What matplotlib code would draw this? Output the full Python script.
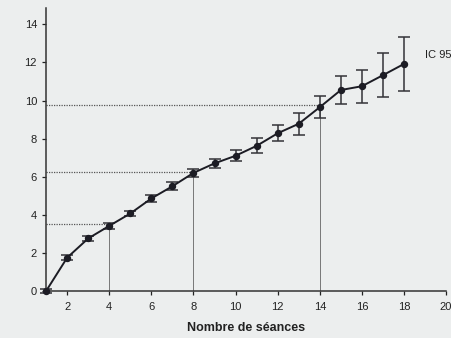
import matplotlib.pyplot as plt

plt.rcParams['font.family'] = ['Liberation Sans', 'DejaVu Sans']

# Mean score per number of sessions, with 95% CI half-widths
seances = [1, 2, 3, 4, 5, 6, 7, 8, 9, 10, 11, 12, 13, 14, 15, 16, 17, 18]
moyenne = [0.0, 1.75, 2.76, 3.42, 4.07, 4.86, 5.5, 6.2, 6.7, 7.1, 7.62, 8.28,
           8.78, 9.65, 10.55, 10.75, 11.33, 11.92]
ic95 = [0.08, 0.12, 0.14, 0.15, 0.15, 0.17, 0.2, 0.22, 0.25, 0.3, 0.4, 0.43,
        0.57, 0.57, 0.72, 0.86, 1.17, 1.43]

# Reference lines drawn down to the x axis
repere_x = [4, 8, 14]
repere_y = [3.5, 6.25, 9.75]

xticks = [2, 4, 6, 8, 10, 12, 14, 16, 18, 20]
yticks = [0, 2, 4, 6, 8, 10, 12, 14]

fond = '#eceeee'
encre = '#1c1c24'

fig = plt.figure(figsize=(4.52, 3.38), dpi=100, facecolor=fond)
ax = fig.add_axes([0.102, 0.139, 0.885, 0.837], facecolor=fond)

for xr, yr in zip(repere_x, repere_y):
    ax.plot([1, xr], [yr, yr], color='#555555', lw=0.9, ls=(0, (1, 1)), zorder=1)
    ax.plot([xr, xr], [0, yr], color='#777777', lw=0.7, zorder=1)

ax.errorbar(seances, moyenne, yerr=ic95, color=encre, ecolor='#333338',
            lw=1.4, elinewidth=1.1, capsize=4, capthick=1.1,
            marker='o', ms=4.3, mfc=encre, mec=encre, zorder=3, clip_on=False)

ax.text(19.0, 12.4, 'IC 95', fontsize=8, color='#222222', va='center', ha='left')

ax.set_xlim(1, 20)
ax.set_ylim(0, 14.85)
ax.set_xticks(xticks)
ax.set_yticks(yticks)
ax.tick_params(axis='both', labelsize=8, colors='#222222', length=3, width=0.9)
ax.tick_params(axis='x', pad=5)
for side in ('top', 'right'):
    ax.spines[side].set_visible(False)
for side in ('left', 'bottom'):
    ax.spines[side].set_color('#333333')
    ax.spines[side].set_linewidth(1.1)

ax.set_xlabel('Nombre de séances', fontsize=9, fontweight='bold', color='#222222',
              labelpad=7)

fig.savefig('out.png', dpi=100, facecolor=fond)
